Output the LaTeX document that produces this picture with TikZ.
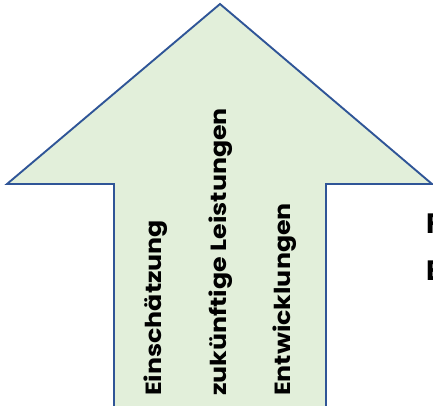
\documentclass[tikz,border=0pt]{standalone}
\usepackage{fontspec}
\setmainfont{Poppins}
\newfontfamily\widegothic[FakeStretch=1.15]{Poppins}
\usepackage{tikz}

\definecolor{arrowline}{HTML}{2F5597}
\definecolor{arrowfill}{HTML}{E2EFDA}

\begin{document}
\begin{tikzpicture}[x=1pt,y=1pt]

        \useasboundingbox (0,0) rectangle (433,405);

        \begin{scope}[every node/.style={coordinate}]
          \node (tip)   at (220,401) {};
          \node (wingl) at (7,221) {};
          \node (wingr) at (432,221) {};
          \node (shl)   at (114,221) {};
          \node (shr)   at (326,221) {};
          \node (botl)  at (114,-5) {};
          \node (botr)  at (326,-5) {};
        \end{scope}

        \path[draw=arrowline, fill=arrowfill, line width=1.9pt, line join=miter]
          (botl) -- (shl) -- (wingl) -- (tip) -- (wingr) -- (shr) -- (botr) -- cycle;

        \begin{scope}[every node/.style={rotate=90, anchor=base west, inner sep=0pt,
                                         font=\widegothic\fontsize{22}{26}\selectfont\bfseries}]
          \node (einsch) at (161,9) {Einschätzung};
          \node (leist)  at (226,9) {zukünftige Leistungen};
          \node (entw)   at (290,9) {Entwicklungen};
        \end{scope}

        \begin{scope}[every node/.style={anchor=base west, inner sep=0pt,
                                         font=\fontsize{28}{32}\selectfont\bfseries}]
          \node (frest) at (426,172) {F};
          \node (erest) at (426,125) {E};
        \end{scope}

      \end{tikzpicture}
\end{document}
